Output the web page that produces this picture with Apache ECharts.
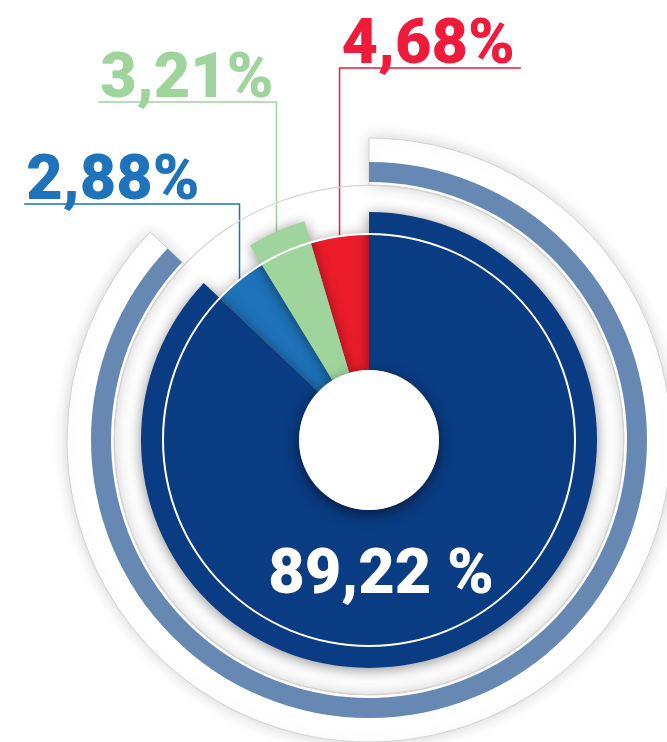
<!DOCTYPE html>
<html>
<head>
<meta charset="utf-8">
<script src="https://cdn.jsdelivr.net/npm/echarts@6/dist/echarts.min.js"></script>
<style>
html, body { margin: 0; padding: 0; background: #fff; }
#main { width: 667px; height: 742px; }
</style>
</head>
<body>
<div id="main"></div>
<script>
// data
var names  = ['Segment 1', 'Segment 2', 'Segment 3', 'Segment 4'];
var values = [89.22, 2.88, 3.21, 4.68];

// look
var colors   = ['#0a3c83', '#1e73ba', '#9fd49d', '#ec1c2a'];
var txtColor = ['#ffffff', '#1e73ba', '#9fd49d', '#ee1b3b'];
var FONT = "Roboto, 'Liberation Sans', sans-serif";
var FSIZE = 63;
var CX = 369, CY = 440;
var BIG = [0, 2];      // slices drawn on the wide ring
var SMALL = [1, 3];    // slices drawn on the narrow ring

// label placement: y of underline, which side of the leader the text goes, gap
var underY   = [null, 204, 102, 68];
var txtSide  = [null, 'left', 'left', 'right'];
var txtGap   = [null, 40, 3, 2];

function fmt(v) { return v.toFixed(2).replace('.', ','); }

var hidden = { color: 'rgba(0,0,0,0)', borderWidth: 0, shadowBlur: 0 };

function layoutLabel(params) {
    var i = params.dataIndex;
    if (i === 0) {
        return { x: CX + 12, y: CY + 137, align: 'center', verticalAlign: 'middle' };
    }
    var p = params.labelLinePoints;
    if (!p) return;
    var x0 = p[0][0], y0 = p[0][1];
    var w = params.labelRect.width;
    var ly = underY[i];
    if (txtSide[i] === 'right') {
        return {
            x: x0 + txtGap[i], y: ly - 21, align: 'left', verticalAlign: 'middle',
            labelLinePoints: [[x0, y0], [x0, ly], [x0 + txtGap[i] + w + 6, ly]]
        };
    }
    return {
        x: x0 - txtGap[i], y: ly - 21, align: 'right', verticalAlign: 'middle',
        labelLinePoints: [[x0, y0], [x0, ly], [x0 - txtGap[i] - w - 2, ly]]
    };
}

function sliceData(show) {
    return values.map(function (v, i) {
        var on = show.indexOf(i) >= 0;
        var item = { name: names[i], value: v };
        if (!on) {
            item.itemStyle = hidden;
            item.label = { show: false };
            item.labelLine = { show: false };
            return item;
        }
        item.itemStyle = {
            color: colors[i],
            shadowBlur: 14,
            shadowColor: 'rgba(0,0,0,0.45)',
            shadowOffsetY: 2
        };
        if (i === 0) {
            item.label = {
                show: true, position: 'inside',
                formatter: function (p) { return fmt(p.value) + ' %'; },
                color: txtColor[0], fontSize: FSIZE, fontWeight: 900,
                fontFamily: FONT, lineHeight: FSIZE
            };
            item.labelLine = { show: false };
        } else {
            item.label = {
                show: true, position: 'outside',
                formatter: function (p) { return fmt(p.value) + '%'; },
                color: txtColor[i], fontSize: FSIZE, fontWeight: 900,
                fontFamily: FONT, lineHeight: FSIZE
            };
            item.labelLine = { show: true, lineStyle: { color: txtColor[i], width: 1.5 } };
        }
        return item;
    });
}

// outer decorations follow the first slice only
function firstOnly(style) {
    return values.map(function (v, i) {
        return { name: names[i], value: v, itemStyle: i === 0 ? style : hidden };
    });
}

var base = {
    type: 'pie', center: [CX, CY], startAngle: 90, clockwise: true,
    minAngle: 15, avoidLabelOverlap: false, silent: true,
    emphasis: { disabled: true }, label: { show: false }, labelLine: { show: false }
};

function pie(extra) { return Object.assign({}, base, extra); }

var myChart = echarts.init(document.getElementById('main'));

var option = {
    animation: false,
    backgroundColor: '#fff',
    series: [
        // outer shell
        pie({ radius: [255, 302], data: firstOnly({
            color: '#ffffff', borderColor: '#d2d2d2', borderWidth: 1,
            shadowBlur: 16, shadowColor: 'rgba(0,0,0,0.18)'
        }) }),
        // thin grey circle
        pie({ radius: [254, 255.2], data: [{ value: 1, itemStyle: { color: '#d4d4d4' } }] }),
        // steel blue band
        pie({ radius: [258, 278], data: firstOnly({ color: '#6788b3' }) }),
        // narrow slices (under the wide ones so shadows fall on them)
        pie({ radius: [70, 206], data: sliceData(SMALL), labelLayout: layoutLabel }),
        // wide slices
        pie({ radius: [70, 228], data: sliceData(BIG), labelLayout: layoutLabel }),
        // white hairline circle
        pie({ radius: [205, 207], data: [{ value: 1, itemStyle: { color: '#ffffff' } }] }),
        // center hole
        pie({ radius: [0, 70], data: [{ value: 1, itemStyle: {
            color: '#ffffff', shadowBlur: 14, shadowOffsetY: 4, shadowColor: 'rgba(0,0,0,0.55)'
        } }] })
    ]
};

myChart.setOption(option, true);
</script>
</body>
</html>
